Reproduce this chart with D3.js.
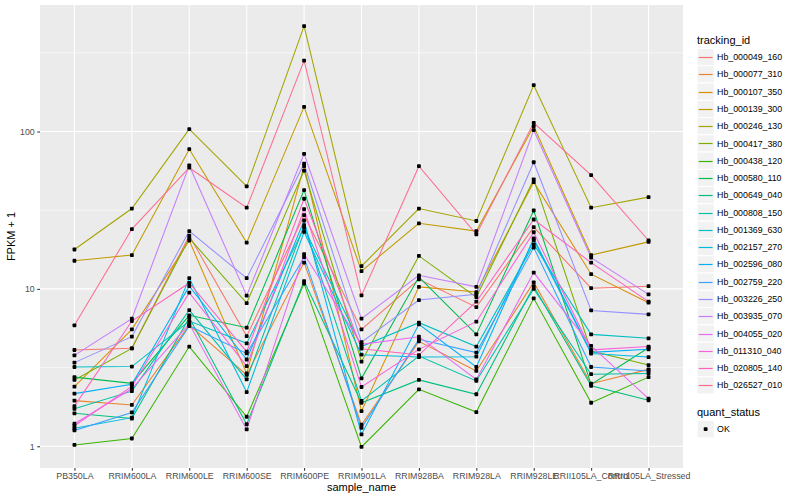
<!DOCTYPE html>
<html>
<head>
<meta charset="utf-8">
<script src="https://cdn.jsdelivr.net/npm/d3@7"></script>
<style>
  body { margin: 0; background: #fff; }
  svg { font-family: "Liberation Sans", Arial, Helvetica, sans-serif; }
</style>
</head>
<body>
<div id="chart"></div>
<script>
// sample names on the x axis
var samples = ["PB350LA", "RRIM600LA", "RRIM600LE", "RRIM600SE", "RRIM600PE", "RRIM901LA",
  "RRIM928BA", "RRIM928LA", "RRIM928LE", "RRII105LA_Control", "RRII105LA_Stressed"];

var trackingIds = ["Hb_000049_160", "Hb_000077_310", "Hb_000107_350", "Hb_000139_300",
  "Hb_000246_130", "Hb_000417_380", "Hb_000438_120", "Hb_000580_110", "Hb_000649_040",
  "Hb_000808_150", "Hb_001369_630", "Hb_002157_270", "Hb_002596_080", "Hb_002759_220",
  "Hb_003226_250", "Hb_003935_070", "Hb_004055_020", "Hb_011310_040", "Hb_020805_140",
  "Hb_026527_010"];

// FPKM + 1, one row per tracking_id, one column per sample
var fpkm = [
  [4.09, 4.19, 21.8, 5.01, 29.4, 5.53, 11.5, 7.66, 24.7, 10.1, 10.4],
  [1.95, 1.83, 5.89, 2.84, 14.7, 1.37, 4.64, 3.01, 11.0, 2.50, 3.08],
  [2.39, 5.53, 20.3, 2.90, 60.2, 1.67, 10.3, 9.55, 47.7, 12.4, 8.17],
  [15.1, 16.4, 77.2, 19.7, 143.5, 12.97, 26.1, 23.3, 108, 16.4, 19.9],
  [17.8, 32.4, 103.5, 44.8, 468, 13.96, 32.4, 27, 197, 32.8, 38.3],
  [2.64, 4.19, 21.0, 8.13, 56.5, 3.45, 16.2, 8.87, 49.6, 4.03, 3.28],
  [1.02, 1.12, 4.30, 1.54, 10.8, 0.99, 2.30, 1.65, 8.71, 1.89, 2.75],
  [2.75, 2.51, 6.79, 5.67, 42.4, 2.70, 11.9, 5.14, 31.5, 2.47, 4.23],
  [1.62, 1.50, 6.56, 1.38, 11.2, 1.89, 2.64, 2.14, 10.4, 2.42, 1.96],
  [1.73, 2.24, 7.33, 2.66, 25.4, 1.94, 3.74, 2.60, 10.0, 2.87, 2.90],
  [3.19, 3.21, 6.25, 4.51, 24.4, 4.30, 6.10, 4.30, 19.2, 5.14, 4.85],
  [1.30, 1.52, 11.7, 2.21, 23.0, 3.82, 3.69, 3.71, 20.4, 3.88, 3.69],
  [2.16, 2.48, 10.4, 3.56, 27.2, 1.19, 5.95, 3.19, 20.9, 3.95, 4.13],
  [1.26, 1.64, 5.81, 3.89, 15.9, 1.31, 4.78, 3.94, 18.3, 3.19, 3.01],
  [3.40, 4.97, 23.3, 11.7, 62.4, 4.59, 8.49, 9.23, 63.8, 7.30, 6.89],
  [3.78, 6.47, 60.9, 9.05, 72.2, 6.47, 12.2, 10.3, 102, 15.8, 9.23],
  [1.39, 2.32, 6.0, 1.28, 16.6, 4.44, 4.97, 2.66, 12.7, 4.34, 2.01],
  [1.35, 2.40, 9.46, 3.23, 32.1, 2.38, 4.13, 6.19, 22.9, 4.10, 4.30],
  [1.80, 6.25, 10.9, 3.99, 37.4, 4.17, 3.80, 8.29, 27.6, 14.7, 8.30],
  [5.87, 24.0, 58.9, 32.8, 282, 9.09, 60.2, 22.2, 113.6, 52.8, 20.3]
];

var yTicks = [1, 10, 100];
var quantStatus = ["OK"];

// ggplot default hue palette for 20 levels
var palette = ["#F8766D", "#EA8331", "#D89000", "#C09B00", "#A3A500", "#7CAE00", "#39B600",
  "#00BB4E", "#00BF7D", "#00C1A3", "#00BFC4", "#00BAE0", "#00B0F6", "#35A2FF", "#9590FF",
  "#C77CFF", "#E76BF3", "#FA62DB", "#FF62BC", "#FF6C91"];

var svgWidth = 800;
var svgHeight = 500;

var panel = { left: 40, top: 5, right: 683, bottom: 468 };

var svg = d3.select("#chart")
  .append("svg")
  .attr("width", svgWidth)
  .attr("height", svgHeight);

// x scale: discrete, 0.6 unit padding like ggplot
var x = d3.scalePoint()
  .domain(samples)
  .range([panel.left, panel.right])
  .padding(0.6);

// y scale: log10 with 5% expansion in log space
var allVals = d3.merge(fpkm);
var lmin = Math.log10(d3.min(allVals));
var lmax = Math.log10(d3.max(allVals));
var pad = (lmax - lmin) * 0.05;
var y = d3.scaleLog()
  .domain([Math.pow(10, lmin - pad), Math.pow(10, lmax + pad)])
  .range([panel.bottom, panel.top]);

// panel background
svg.append("rect")
  .attr("x", panel.left)
  .attr("y", panel.top)
  .attr("width", panel.right - panel.left)
  .attr("height", panel.bottom - panel.top)
  .attr("fill", "#EBEBEB");

var grid = svg.append("g");

// minor grid halfway between decades
var minorTicks = [0.316, 3.162, 31.62, 316.2].filter(function (v) {
  return v > y.domain()[0] && v < y.domain()[1];
});
grid.selectAll(".minor")
  .data(minorTicks)
  .enter()
  .append("line")
  .attr("x1", panel.left)
  .attr("x2", panel.right)
  .attr("y1", d => y(d))
  .attr("y2", d => y(d))
  .attr("stroke", "#fff")
  .attr("stroke-width", 0.55);

grid.selectAll(".major")
  .data(yTicks)
  .enter()
  .append("line")
  .attr("x1", panel.left)
  .attr("x2", panel.right)
  .attr("y1", d => y(d))
  .attr("y2", d => y(d))
  .attr("stroke", "#fff")
  .attr("stroke-width", 1.1);

grid.selectAll(".vmajor")
  .data(samples)
  .enter()
  .append("line")
  .attr("x1", d => x(d))
  .attr("x2", d => x(d))
  .attr("y1", panel.top)
  .attr("y2", panel.bottom)
  .attr("stroke", "#fff")
  .attr("stroke-width", 1.1);

// lines
var line = d3.line()
  .x((d, i) => x(samples[i]))
  .y(d => y(d));

svg.append("g")
  .selectAll("path")
  .data(fpkm)
  .enter()
  .append("path")
  .attr("d", d => line(d))
  .attr("fill", "none")
  .attr("stroke", (d, i) => palette[i])
  .attr("stroke-width", 1.05);

// points
var pts = [];
fpkm.forEach(function (row, s) {
  row.forEach(function (v, i) { pts.push({ s: s, i: i, v: v }); });
});
svg.append("g")
  .selectAll("rect")
  .data(pts)
  .enter()
  .append("rect")
  .attr("x", d => x(samples[d.i]) - 1.9)
  .attr("y", d => y(d.v) - 1.9)
  .attr("width", 3.8)
  .attr("height", 3.8)
  .attr("rx", 0.8)
  .attr("fill", "#000");

// axes
var xAxis = svg.append("g")
  .attr("transform", `translate(0, ${panel.bottom})`)
  .call(d3.axisBottom(x).tickSize(2.75).tickPadding(2));

var yAxis = svg.append("g")
  .attr("transform", `translate(${panel.left}, 0)`)
  .call(d3.axisLeft(y).tickValues(yTicks).tickFormat(d3.format("d")).tickSize(2.75).tickPadding(2.5));

[xAxis, yAxis].forEach(function (ax) {
  ax.select(".domain").remove();
  ax.selectAll(".tick line").attr("stroke", "#333333").attr("stroke-width", 1.05);
  ax.selectAll(".tick text")
    .attr("fill", "#4D4D4D")
    .attr("font-size", "8.8px")
    .attr("font-family", "Liberation Sans, Arial, sans-serif");
});

// axis titles
svg.append("text")
  .attr("x", (panel.left + panel.right) / 2)
  .attr("y", 491)
  .attr("text-anchor", "middle")
  .attr("font-size", "11px")
  .attr("fill", "#000")
  .text("sample_name");

svg.append("text")
  .attr("transform", `translate(15, ${(panel.top + panel.bottom) / 2}) rotate(-90)`)
  .attr("text-anchor", "middle")
  .attr("font-size", "11px")
  .attr("fill", "#000")
  .text("FPKM + 1");

// legend: tracking_id
var keySize = 17.28;
var legX = 697;
var legY = 48.4;

svg.append("text")
  .attr("x", legX)
  .attr("y", 44)
  .attr("font-size", "11px")
  .attr("fill", "#000")
  .text("tracking_id");

var keys = svg.append("g")
  .selectAll("g")
  .data(trackingIds)
  .enter()
  .append("g")
  .attr("transform", (d, i) => `translate(${legX}, ${legY + i * keySize})`);

keys.append("rect")
  .attr("width", keySize)
  .attr("height", keySize)
  .attr("fill", "#F2F2F2")
  .attr("stroke", "#fff")
  .attr("stroke-width", 1);

// snap key line to a pixel row so the colour stays crisp
keys.append("line")
  .attr("x1", 1.7)
  .attr("x2", keySize - 1.7)
  .attr("y1", (d, i) => Math.round(legY + i * keySize + keySize / 2) + 0.5 - (legY + i * keySize))
  .attr("y2", (d, i) => Math.round(legY + i * keySize + keySize / 2) + 0.5 - (legY + i * keySize))
  .attr("stroke", (d, i) => palette[i])
  .attr("stroke-width", 1.2);

keys.append("text")
  .attr("x", keySize + 2.8)
  .attr("y", keySize / 2)
  .attr("dy", "0.35em")
  .attr("font-size", "8.8px")
  .attr("fill", "#000")
  .text(d => d);

// legend: quant_status
svg.append("text")
  .attr("x", legX)
  .attr("y", 416)
  .attr("font-size", "11px")
  .attr("fill", "#000")
  .text("quant_status");

var qKeys = svg.append("g")
  .selectAll("g")
  .data(quantStatus)
  .enter()
  .append("g")
  .attr("transform", (d, i) => `translate(${legX}, ${420.5 + i * keySize})`);

qKeys.append("rect")
  .attr("width", keySize)
  .attr("height", keySize)
  .attr("fill", "#F2F2F2")
  .attr("stroke", "#fff")
  .attr("stroke-width", 1);

qKeys.append("rect")
  .attr("x", keySize / 2 - 1.9)
  .attr("y", keySize / 2 - 1.9)
  .attr("width", 3.8)
  .attr("height", 3.8)
  .attr("rx", 0.8)
  .attr("fill", "#000");

qKeys.append("text")
  .attr("x", keySize + 2.8)
  .attr("y", keySize / 2)
  .attr("dy", "0.35em")
  .attr("font-size", "8.8px")
  .attr("fill", "#000")
  .text(d => d);
</script>
</body>
</html>
